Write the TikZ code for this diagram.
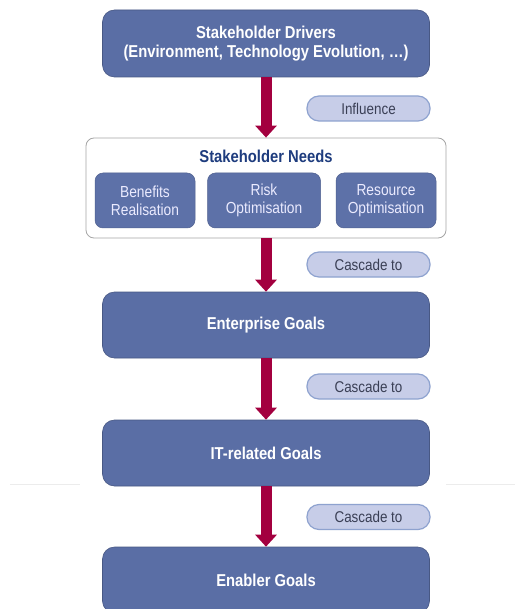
\documentclass[tikz,border=0pt]{standalone}
\usepackage{fontspec}
\setmainfont{Liberation Sans}[FakeStretch=0.86]
\usetikzlibrary{arrows.meta}
\definecolor{boxblue}{HTML}{5A6EA5}
\definecolor{subblue}{HTML}{5D71A8}
\definecolor{pillfill}{HTML}{C7CDE8}
\definecolor{pillline}{HTML}{8EA2CF}
\definecolor{arrowred}{HTML}{A3003F}
\definecolor{titleblue}{HTML}{1E3C7E}
\definecolor{pilltext}{HTML}{3A3F55}
\tikzset{
  bigbox/.style={draw=boxblue!80!black, line width=0.6pt, fill=boxblue, rounded corners=12pt,
    minimum width=327pt, minimum height=66pt, text=white, font=\bfseries\fontsize{17.2}{19}\selectfont, align=center},
  subbox/.style={draw=subblue!85!black, line width=0.5pt, fill=subblue, rounded corners=8pt,
    minimum height=55pt, text=white!92!blue, font=\fontsize{16}{18}\selectfont, align=center},
  container/.style={draw=gray!70, line width=0.8pt, fill=white, rounded corners=8pt,
    minimum width=360pt, minimum height=100pt},
  pill/.style={draw=pillline, line width=1.2pt, fill=pillfill, rounded corners=12pt,
    minimum width=123pt, minimum height=25pt, text=pilltext, font=\fontsize{15.6}{17}\selectfont},
  flow/.style={arrowred, line width=11pt, -{Triangle[width=21pt,length=12pt]}}
}
\begin{document}
\begin{tikzpicture}[x=1pt,y=-1pt]
\useasboundingbox (0,0) rectangle (515,609);
\clip (0,0) rectangle (515,609);
\fill[white] (0,0) rectangle (515,609);
\draw[gray!15, line width=1pt] (10,484) -- (80,484);
\draw[gray!15, line width=1pt] (446,484) -- (515,484);

\node[bigbox, minimum height=67pt] (drivers) at (266,43.5) {Stakeholder Drivers\\(Environment, Technology Evolution, \dots)};
\node[container] (needs) at (266,188) {};
\node[text=titleblue, font=\bfseries\fontsize{17.2}{19}\selectfont] (needstitle) at (266,156) {Stakeholder Needs};
\node[subbox, minimum width=100pt] (benefits) at (145,200.5) {Benefits\\Realisation};
\node[subbox, minimum width=113pt] (risk) at (264,200.5) {Risk\\Optimisation};
\node[subbox, minimum width=100pt] (resource) at (386,200.5) {Resource\\Optimisation};
\node[bigbox] (enterprise) at (266,325) {Enterprise Goals};
\node[bigbox] (itgoals) at (266,453) {IT-related Goals};
\node[bigbox] (enabler) at (266,580) {Enabler Goals};

\node[pill] (p1) at (368.5,108.5) {Influence};
\node[pill] (p2) at (368.5,264.5) {Cascade to};
\node[pill] (p3) at (368.5,386.5) {Cascade to};
\node[pill] (p4) at (368.5,517) {Cascade to};

\draw[flow] (drivers.south) -- (needs.north);
\draw[flow] (needs.south) -- (enterprise.north);
\draw[flow] (enterprise.south) -- (itgoals.north);
\draw[flow] (itgoals.south) -- (enabler.north);
\end{tikzpicture}
\end{document}
